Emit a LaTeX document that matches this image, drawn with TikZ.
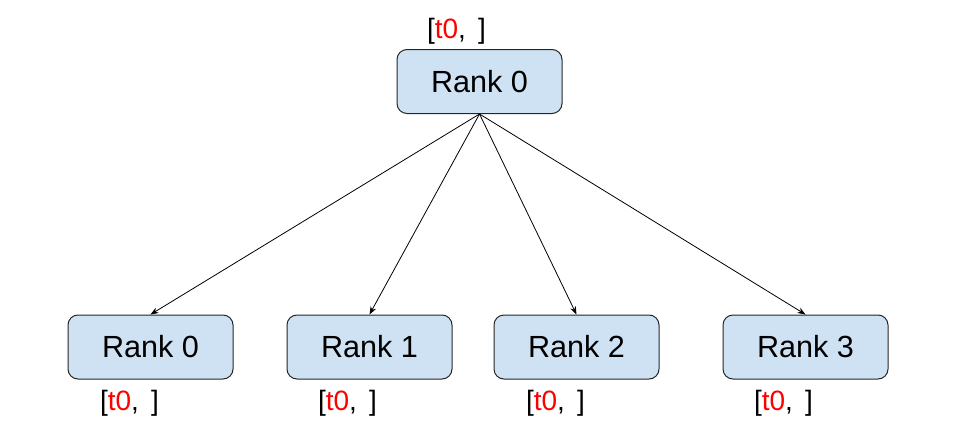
\documentclass[tikz,border=0pt]{standalone}
\usepackage{xcolor}
\usepackage{fontspec}
\setmainfont{Liberation Sans}
\usepackage{tikz}
\usetikzlibrary{positioning, arrows.meta}
\definecolor{rankblue}{HTML}{CFE2F3}

\begin{document}
\begin{tikzpicture}[x=0.5pt, y=-0.5pt,
		rank/.style = {draw=black!85, fill=rankblue, rounded corners=5pt, line width=0.5pt,
			minimum width=82.5pt, minimum height=32pt, font=\fontsize{15.3}{18}\selectfont},
		buf/.style = {inner sep=0pt, font=\fontsize{14}{16}\selectfont},
		send/.style = {-{Stealth[length=4pt, width=3pt]}, line width=0.4pt}]
			\useasboundingbox (0,0) rectangle (958,428);
			\node[rank] (root) at (479.5,81.5) {Rank 0};
			\node[rank] (r0) at (150.5,347) {Rank 0};
			\node[rank] (r1) at (369.5,347) {Rank 1};
			\node[rank] (r2) at (576.5,347) {Rank 2};
			\node[rank] (r3) at (805.5,347) {Rank 3};
			% buffers
			\node[buf] (broot) [above=2pt of root, xshift=-11.5pt] {[\textcolor{red}{t0},\ \hspace{2.2pt}]};
			\node[buf] (b0) [below=5pt of r0, xshift=-10.5pt] {[\textcolor{red}{t0},\ \hspace{2.2pt}]};
			\node[buf] (b1) [below=5pt of r1, xshift=-11pt] {[\textcolor{red}{t0},\ \hspace{2.2pt}]};
			\node[buf] (b2) [below=5pt of r2, xshift=-10.5pt] {[\textcolor{red}{t0},\ \hspace{2.2pt}]};
			\node[buf] (b3) [below=5pt of r3, xshift=-11pt] {[\textcolor{red}{t0},\ \hspace{2.2pt}]};
			\draw[send] (root.south) -- (r0.north);
			\draw[send] (root.south) -- (r1.north);
			\draw[send] (root.south) -- (r2.north);
			\draw[send] (root.south) -- (r3.north);
		\end{tikzpicture}
\end{document}
